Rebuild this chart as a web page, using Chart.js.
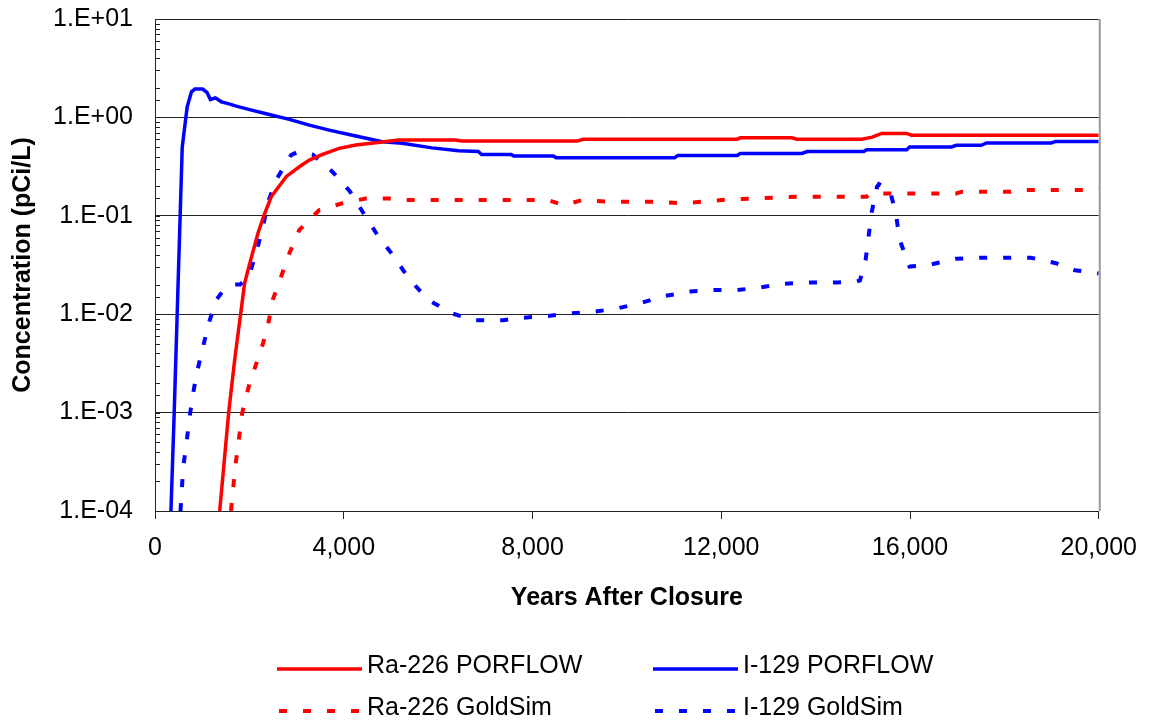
<!DOCTYPE html>
<html lang="en">
<head>
  <meta charset="UTF-8">
  <title>Concentration vs Years After Closure</title>
  <script src="https://cdn.jsdelivr.net/npm/chart.js"></script>
  <style>
    body {
      margin: 0;
      background-color: #ffffff;
      font-family: "Liberation Sans", Arial, sans-serif;
    }
    .container {
      width: 1151px;
      height: 724px;
    }
  </style>
</head>
<body>
  <div class="container">
    <canvas id="concChart"></canvas>
  </div>

  <script>
    // Ra-226 PORFLOW
    const raPorflowYears = [1371, 1561, 1688, 1814, 1899, 1990, 2180, 2306, 2463, 2780, 3059, 3270, 3551, 3903, 4255, 4677, 5169, 6364, 6500, 8950, 9070, 12340, 12400, 13500, 13600, 14980, 15200, 15400, 15930, 16030, 20000];
    const raPorflowConc = [1e-4, 1e-3, 3.43e-3, 1e-2, 0.0206, 0.0304, 0.066, 0.10, 0.156, 0.25, 0.315, 0.368, 0.42, 0.485, 0.523, 0.552, 0.588, 0.588, 0.575, 0.575, 0.60, 0.60, 0.62, 0.62, 0.60, 0.60, 0.63, 0.688, 0.688, 0.66, 0.66];

    // I-129 PORFLOW
    const iPorflowYears = [338, 407, 470, 577, 682, 773, 845, 1010, 1100, 1175, 1280, 1407, 1550, 1723, 2004, 2356, 2848, 3270, 3692, 4255, 4817, 5238, 5871, 6434, 6850, 6920, 7550, 7600, 8440, 8500, 11010, 11080, 12340, 12400, 13710, 13820, 15020, 15080, 15930, 15990, 16880, 16980, 17510, 17620, 18990, 19090, 20000];
    const iPorflowConc = [1e-4, 1e-3, 1e-2, 0.50, 1.28, 1.82, 1.94, 1.94, 1.80, 1.52, 1.58, 1.44, 1.38, 1.30, 1.20, 1.09, 0.955, 0.835, 0.743, 0.646, 0.566, 0.545, 0.49, 0.458, 0.45, 0.42, 0.42, 0.405, 0.405, 0.39, 0.39, 0.41, 0.41, 0.43, 0.43, 0.45, 0.45, 0.47, 0.47, 0.50, 0.50, 0.52, 0.52, 0.55, 0.55, 0.57, 0.57];

    // Ra-226 GoldSim
    const raGoldsimYears = [1610, 1702, 1850, 2004, 2250, 2390, 2496, 2672, 2848, 3059, 3481, 3973, 4466, 4958, 5240, 8330, 8650, 9070, 9600, 10650, 11140, 11600, 12020, 12660, 13600, 15080, 15150, 16980, 17100, 18140, 18250, 19720, 20000];
    const raGoldsimConc = [1e-4, 2.84e-4, 1e-3, 2e-3, 4.37e-3, 7.5e-3, 0.014, 0.024, 0.0416, 0.0718, 0.1146, 0.134, 0.15, 0.15, 0.145, 0.145, 0.128, 0.145, 0.139, 0.139, 0.134, 0.139, 0.145, 0.15, 0.156, 0.156, 0.169, 0.169, 0.176, 0.176, 0.183, 0.183, 0.193];

    // I-129 GoldSim
    const iGoldsimYears = [540, 598, 668, 724, 808, 900, 1020, 1139, 1301, 1450, 1582, 1667, 1800, 1990, 2159, 2285, 2412, 2587, 2883, 3000, 3200, 3340, 3762, 4135, 4451, 4712, 5063, 5380, 5787, 6293, 6750, 7380, 7800, 8330, 8820, 9320, 9810, 10300, 10800, 11350, 11850, 12340, 12830, 13330, 13820, 14450, 14870, 14940, 15060, 15130, 15190, 15300, 15340, 15570, 15700, 15780, 15990, 16390, 16980, 17400, 18560, 19090, 19490, 20000];
    const iGoldsimConc = [1e-4, 2.8e-4, 4.9e-4, 8.4e-4, 1.58e-3, 2.7e-3, 4.7e-3, 8.1e-3, 0.014, 0.0175, 0.019, 0.020, 0.020, 0.024, 0.045, 0.077, 0.145, 0.24, 0.414, 0.44, 0.44, 0.42, 0.28, 0.176, 0.10, 0.064, 0.0385, 0.023, 0.014, 0.0102, 0.0087, 0.0087, 0.0092, 0.0096, 0.0102, 0.0106, 0.0115, 0.013, 0.0153, 0.0170, 0.0176, 0.0176, 0.0187, 0.0204, 0.021, 0.021, 0.0215, 0.022, 0.036, 0.066, 0.11, 0.197, 0.21, 0.183, 0.106, 0.057, 0.0305, 0.0316, 0.0366, 0.0375, 0.0375, 0.033, 0.028, 0.026];

    const seriesLabels = ['Ra-226 PORFLOW', 'I-129 PORFLOW', 'Ra-226 GoldSim', 'I-129 GoldSim'];
    const xTickValues = [0, 4000, 8000, 12000, 16000, 20000];

    function toPoints(xs, ys) {
      return xs.map((x, i) => ({ x: x, y: ys[i] }));
    }

    function isDecade(v) {
      const e = Math.log10(v);
      return Math.abs(e - Math.round(e)) < 1e-9;
    }

    function sciLabel(v) {
      const e = Math.round(Math.log10(v));
      const sign = e < 0 ? '-' : '+';
      return '1.E' + sign + String(Math.abs(e)).padStart(2, '0');
    }

    const FONT = '"Liberation Sans", Arial, sans-serif';
    const dash = [8, 16];

    // extra bits Excel draws: minor ticks inside y axis, right frame, two-column legend
    const extras = {
      id: 'extras',
      afterDraw(chart) {
        const ctx = chart.ctx;
        const area = chart.chartArea;
        const y = chart.scales.y;
        ctx.save();

        ctx.strokeStyle = '#999999';
        ctx.lineWidth = 2;
        ctx.beginPath();
        ctx.moveTo(area.right + 1, area.top);
        ctx.lineTo(area.right + 1, area.bottom);
        ctx.stroke();

        ctx.strokeStyle = '#222222';
        ctx.lineWidth = 1;
        ctx.beginPath();
        y.ticks.forEach(t => {
          const py = Math.round(y.getPixelForValue(t.value)) + 0.5;
          ctx.moveTo(area.left, py);
          ctx.lineTo(area.left + 5, py);
        });
        ctx.stroke();

        const cols = [277, 653];
        const rows = [669, 711];
        chart.data.datasets.forEach((ds, i) => {
          const x0 = cols[i % 2];
          const ly = rows[Math.floor(i / 2)];
          ctx.strokeStyle = ds.borderColor;
          ctx.lineWidth = ds.borderWidth;
          ctx.setLineDash(ds.borderDash || []);
          ctx.beginPath();
          ctx.moveTo(x0 + (ds.borderDash ? 2 : 0), ly);
          ctx.lineTo(x0 + 85, ly);
          ctx.stroke();
          ctx.setLineDash([]);
          ctx.fillStyle = '#000000';
          ctx.font = '25px ' + FONT;
          ctx.textAlign = 'left';
          ctx.textBaseline = 'middle';
          ctx.fillText(ds.label, x0 + 90, ly - 3);
        });
        ctx.restore();
      }
    };

    const ctxConc = document.getElementById('concChart').getContext('2d');

    const concChart = new Chart(ctxConc, {
      type: 'line',
      data: {
        datasets: [{
          label: seriesLabels[0],
          data: toPoints(raPorflowYears, raPorflowConc),
          borderColor: '#ff0000',
          borderWidth: 3.5
        }, {
          label: seriesLabels[1],
          data: toPoints(iPorflowYears, iPorflowConc),
          borderColor: '#0000ff',
          borderWidth: 3.5
        }, {
          label: seriesLabels[2],
          data: toPoints(raGoldsimYears, raGoldsimConc),
          borderColor: '#ff0000',
          borderWidth: 4,
          borderDash: dash
        }, {
          label: seriesLabels[3],
          data: toPoints(iGoldsimYears, iGoldsimConc),
          borderColor: '#0000ff',
          borderWidth: 4,
          borderDash: dash
        }]
      },
      options: {
        responsive: true,
        maintainAspectRatio: false,
        animation: false,
        elements: {
          point: { radius: 0 },
          line: { tension: 0, fill: false, borderCapStyle: 'butt' }
        },
        layout: {
          padding: { top: 19, right: 48, bottom: 111, left: 0 }
        },
        plugins: {
          legend: { display: false },
          tooltip: { enabled: false }
        },
        scales: {
          x: {
            type: 'linear',
            min: 0,
            max: 20000,
            afterBuildTicks: (scale) => {
              scale.ticks = xTickValues.map(v => ({ value: v }));
            },
            ticks: {
              color: '#000000',
              font: { family: FONT, size: 25 },
              padding: 14,
              maxRotation: 0,
              autoSkip: false,
              callback: (v) => v.toLocaleString('en-US')
            },
            grid: {
              drawOnChartArea: false,
              drawTicks: true,
              tickLength: 8,
              color: '#222222'
            },
            border: { color: '#222222', width: 1 },
            title: {
              display: true,
              text: 'Years After Closure',
              color: '#000000',
              font: { family: FONT, size: 25, weight: 'bold' },
              padding: { top: 6, bottom: 0 }
            }
          },
          y: {
            type: 'logarithmic',
            min: 1e-4,
            max: 10,
            afterFit: (scale) => {
              scale.width = 155;
              scale.paddingTop = 0;
              scale.paddingBottom = 0;
            },
            ticks: {
              color: '#000000',
              font: { family: FONT, size: 25 },
              padding: 22,
              autoSkip: false,
              callback: (v) => isDecade(v) ? sciLabel(v) : ''
            },
            grid: {
              drawTicks: false,
              color: (c) => (c.tick && isDecade(c.tick.value)) ? '#222222' : 'rgba(0,0,0,0)',
              lineWidth: 1
            },
            border: { color: '#222222', width: 1 },
            title: {
              display: true,
              text: 'Concentration (pCi/L)',
              color: '#000000',
              font: { family: FONT, size: 25, weight: 'bold' },
              padding: { top: 8, bottom: 0 }
            }
          }
        }
      },
      plugins: [extras]
    });
  </script>
</body>
</html>
